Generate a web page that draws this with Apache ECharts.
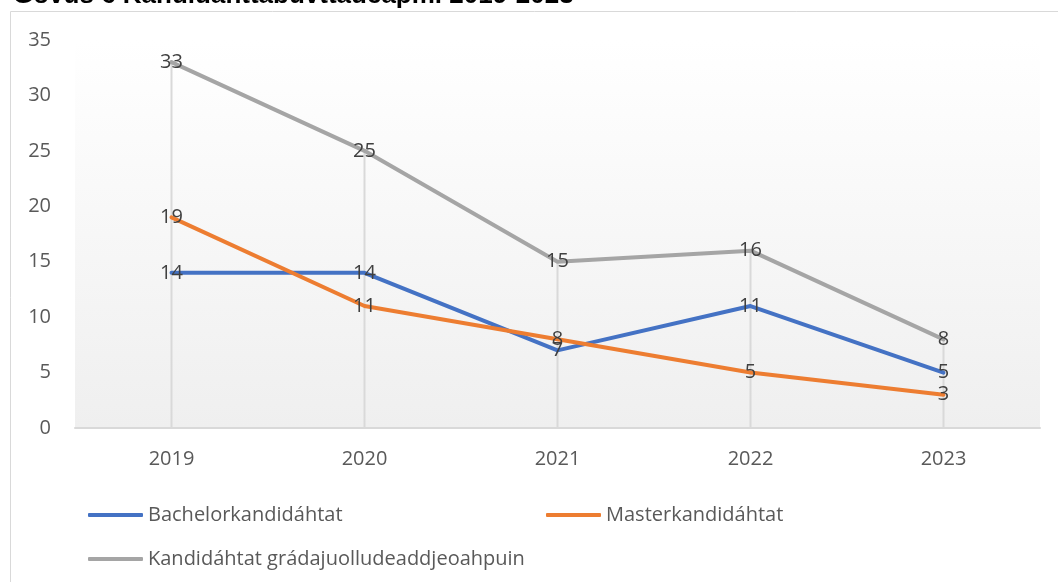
<!DOCTYPE html>
<html>
<head>
<meta charset="utf-8">
<script src="https://cdn.jsdelivr.net/npm/echarts@6/dist/echarts.min.js"></script>
<style>
  html, body { margin: 0; padding: 0; background: #fff; }
  #chart { width: 1058px; height: 582px; }
</style>
</head>
<body>
<div id="chart"></div>
<script>
var years = ['2019', '2020', '2021', '2022', '2023'];
var bachelor = [14, 14, 7, 11, 5];
var master = [19, 11, 8, 5, 3];
var kandidahtta = [33, 25, 15, 16, 8];
var seriesNames = ['Bachelorkandidáhtat', 'Masterkandidáhtat', 'Kandidáhtat grádajuolludeaddjeoahpuin'];

var font = '"Open Sans", "Noto Sans", sans-serif';
var fs = 20;

var chart = echarts.init(document.getElementById('chart'));

function lineSeries(name, data, color) {
  return {
    name: name,
    type: 'line',
    data: data,
    symbol: 'circle',
    symbolSize: 1,
    showSymbol: true,
    z: 3,
    lineStyle: { color: color, width: 4, cap: 'round', join: 'round' },
    itemStyle: { color: color },
    label: {
      show: true,
      position: 'inside',
      color: '#404040',
      fontFamily: font,
      fontSize: fs
    },
    emphasis: { disabled: true }
  };
}

function legendAt(name, left, top) {
  return {
    data: [name],
    left: left,
    top: top,
    icon: 'roundRect',
    itemWidth: 55,
    itemHeight: 4,
    textStyle: { color: '#595959', fontFamily: font, fontSize: fs }
  };
}

chart.setOption({
  animation: false,
  title: {
    text: 'Govus 6 Kandidáhttabuvttadeapmi 2019-2023',
    left: 8,
    top: -22,
    textStyle: { fontFamily: 'Liberation Sans, Arial', fontWeight: 'bold', fontSize: 26, color: '#000' }
  },
  graphic: [{
    type: 'rect',
    shape: { x: 10.5, y: 11.5, width: 1060, height: 600 },
    style: { fill: null, stroke: '#d9d9d9', lineWidth: 1 },
    z: -1
  }],
  legend: [
    legendAt(seriesNames[0], 83, 500),
    legendAt(seriesNames[1], 541, 500),
    legendAt(seriesNames[2], 83, 544)
  ],
  grid: {
    left: 75,
    right: 18,
    top: 40,
    bottom: 154,
    show: true,
    borderWidth: 0,
    backgroundColor: {
      type: 'linear', x: 0, y: 0, x2: 0, y2: 1,
      colorStops: [{ offset: 0, color: '#ffffff' }, { offset: 1, color: '#efefef' }]
    }
  },
  xAxis: {
    type: 'category',
    data: years,
    boundaryGap: true,
    axisLine: { lineStyle: { color: '#d9d9d9', width: 2 } },
    axisTick: { show: false },
    axisLabel: { color: '#595959', fontFamily: font, fontSize: fs, margin: 21 },
    splitLine: { show: false }
  },
  yAxis: {
    type: 'value',
    min: 0,
    max: 35,
    interval: 5,
    axisLine: { show: false },
    axisTick: { show: false },
    axisLabel: { color: '#595959', fontFamily: font, fontSize: fs, margin: 24 },
    splitLine: { show: false }
  },
  series: [
    {
      name: 'drop',
      type: 'bar',
      data: kandidahtta,
      barWidth: 2,
      z: 1,
      itemStyle: { color: '#d9d9d9' },
      silent: true,
      emphasis: { disabled: true }
    },
    lineSeries(seriesNames[0], bachelor, '#4472c4'),
    lineSeries(seriesNames[1], master, '#ed7d31'),
    lineSeries(seriesNames[2], kandidahtta, '#a5a5a5')
  ]
});
</script>
</body>
</html>
